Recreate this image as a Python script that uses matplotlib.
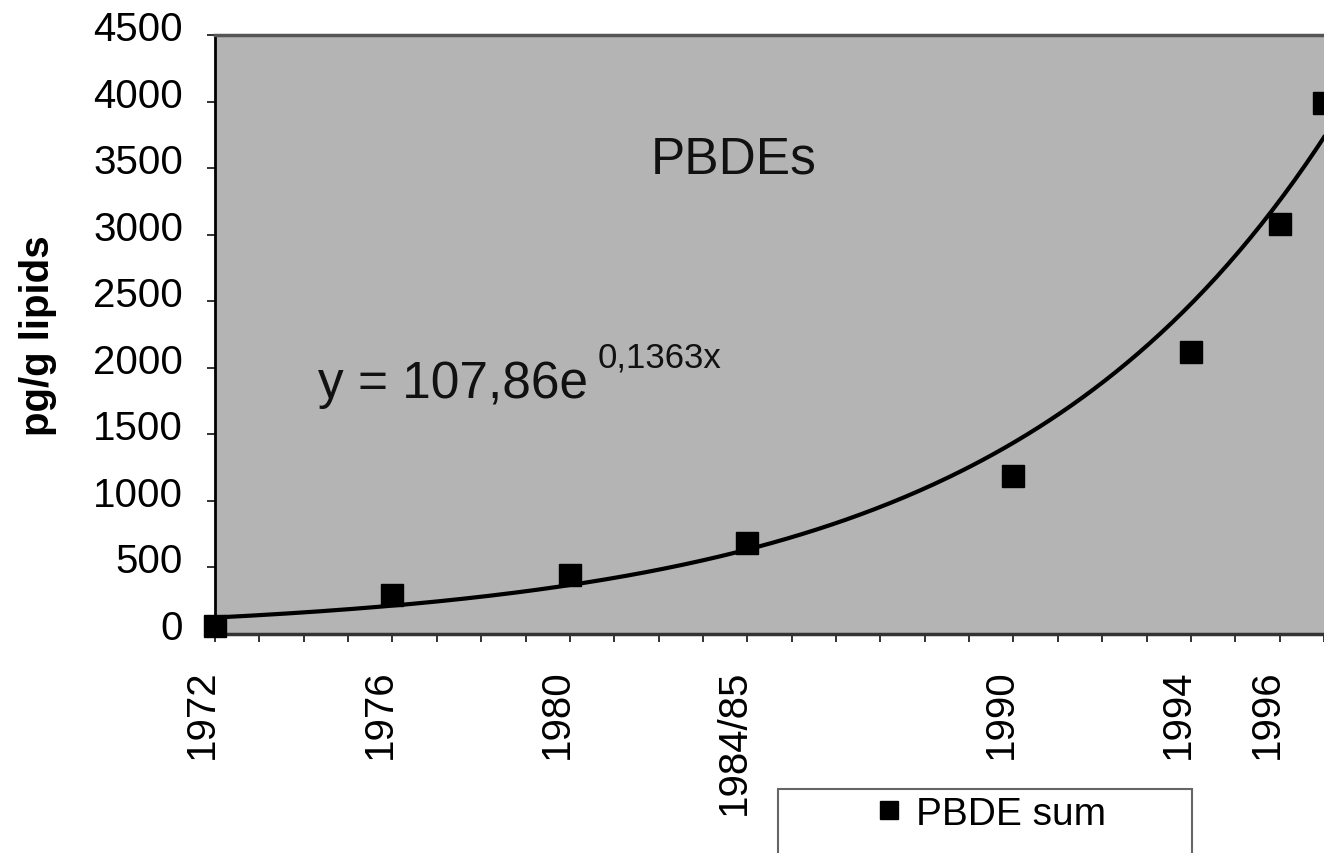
import numpy as np
import matplotlib
matplotlib.use("Agg")
import matplotlib.pyplot as plt
import matplotlib.transforms as mtransforms
from matplotlib.patches import Rectangle

plt.rcParams['font.family'] = ['Liberation Sans', 'DejaVu Sans']

# measured PBDE sum (pg/g lipids)
years = [1972, 1976, 1980, 1984, 1990, 1994, 1996, 1997]
pbde_sum = [60, 290, 440, 680, 1190, 2120, 3080, 3990]
tick_labels = {1972: "1972", 1976: "1976", 1980: "1980", 1984: "1984/85",
               1990: "1990", 1994: "1994", 1996: "1996"}

# exponential trend given on the chart, x = 1 for 1972
trend_a = 107.86
trend_b = 0.1363
first_year = 1971

fig = plt.figure(figsize=(13.24, 8.54), dpi=100)
ax = fig.add_axes([215/1324, 1-635/854, (1324-215)/1324, (635-36)/854])
ax.set_facecolor("#b4b4b4")

t = np.linspace(1972, 1997, 300)
ax.plot(t, trend_a*np.exp(trend_b*(t-first_year)), color="black", linewidth=3, zorder=3)
ax.plot(years, pbde_sum, linestyle="none", marker="s", markersize=16,
        color="black", clip_on=False, zorder=4, label="PBDE sum")

ax.set_xlim(1972, 1997)
ax.set_ylim(0, 4500)
ax.set_yticks(np.arange(0, 4501, 500))
all_years = np.arange(1972, 1998)
ax.set_xticks(all_years)
ax.set_xticklabels([tick_labels.get(y, "") for y in all_years], rotation=90, va="top")
ax.tick_params(axis="both", labelsize=29, direction="out", length=6, width=1.3, color="#222222")
ax.tick_params(axis="y", pad=17)
ax.tick_params(axis="x", pad=19)

# tick labels sit a bit off their ticks in the original
dy = mtransforms.ScaledTranslation(0, 10/100, fig.dpi_scale_trans)
for lab in ax.get_yticklabels():
    lab.set_transform(lab.get_transform() + dy)
dx = mtransforms.ScaledTranslation(-13/100, 0, fig.dpi_scale_trans)
for lab in ax.get_xticklabels():
    lab.set_transform(lab.get_transform() + dx)

ax.spines['right'].set_visible(False)
ax.spines['top'].set_color("#555555")
ax.spines['top'].set_linewidth(2.5)
ax.spines['bottom'].set_color("#333333")
ax.spines['bottom'].set_linewidth(2.5)
ax.spines['left'].set_color("black")
ax.spines['left'].set_linewidth(2)

ax.text(0.468, 0.771, "PBDEs", transform=ax.transAxes, fontsize=37,
        ha="center", va="baseline", color="#111111")
ax.text(0.093, 0.396, "y = 107,86e", transform=ax.transAxes, fontsize=37,
        ha="left", va="baseline", color="#111111")
ax.text(0.345, 0.447, "0,1363x", transform=ax.transAxes, fontsize=25,
        ha="left", va="baseline", color="#111111")

fig.text(38/1324, 1-336/854, "pg/g lipids", rotation=90, fontsize=29,
         fontweight="bold", ha="center", va="center")

# legend box
fig.patches.append(Rectangle((778/1324, -0.05), (1192-778)/1324, 0.05+1-790/854,
                             transform=fig.transFigure, facecolor="white",
                             edgecolor="#666666", linewidth=1.5, zorder=1))
leg = fig.legend(loc="center left", bbox_to_anchor=(850/1324, 1-815/854),
                 frameon=False, fontsize=28, handlelength=1.0, handletextpad=0.2,
                 borderpad=0, markerscale=0.85)
leg.set_zorder(2)

fig.savefig("out.png", dpi=100)
